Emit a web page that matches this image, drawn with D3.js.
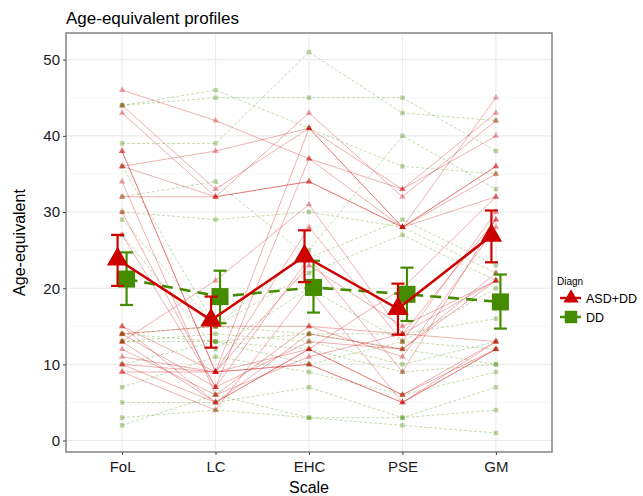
<!DOCTYPE html>
<html>
<head>
<meta charset="utf-8">
<script src="https://cdn.jsdelivr.net/npm/d3@7"></script>
<style>
  body { margin: 0; background: #fff; }
  text { font-family: "Liberation Sans", Arial, sans-serif; }
</style>
</head>
<body>
<div id="chart"></div>
<script>
// 量表名稱
var scales = ['FoL', 'LC', 'EHC', 'PSE', 'GM'];
var yTicks = [0, 10, 20, 30, 40, 50];
var yMinor = [5, 15, 25, 35, 45];

// 個別兒童 (ASD+DD)，順序同 scales
var asdRows = [
  [46, 42, 37, 33, 40],
  [44, 33, 41, 28, 45],
  [43, 32, 43, 32, 42],
  [38, 9, 41, 28, 36],
  [38, 9, 28, 13, 30],
  [36, 38, 41, 33, 43],
  [36, 32, 34, 28, 35],
  [34, 6, 15, 11, 28],
  [32, 32, 34, 28, 32],
  [30, 7, 37, 28, 36],
  [27, 7, 24, 9, 29],
  [15, 9, 23, 15, 21],
  [15, 5, 12, 6, 13],
  [14, 7, 13, 12, 21],
  [13, 21, 31, 14, 29],
  [12, 6, 11, 14, 13],
  [11, 9, 10, 5, 12],
  [10, 5, 14, 12, 22],
  [10, 9, 12, 20, 32],
  [9, 4, 20, 5, 12],
  [14, 15, 15, 14, 21],
  [9, 9, 10, 5, 13],
  [13, 5, 12, 6, 12]
];
// 個別兒童 (DD)
var ddRows = [
  [44, 46, 41, 36, 35],
  [44, 45, 45, 45, 38],
  [39, 39, 51, 43, 42],
  [36, 15, 25, 40, 33],
  [32, 34, 24, 29, 23],
  [30, 29, 30, 28, 22],
  [29, 15, 22, 27, 21],
  [27, 12, 20, 13, 20],
  [14, 15, 14, 14, 16],
  [13, 14, 13, 10, 13],
  [10, 13, 12, 9, 10],
  [7, 11, 9, 6, 9],
  [5, 5, 7, 3, 7],
  [3, 4, 3, 3, 4],
  [2, 6, 3, 2, 1],
  [14, 13, 10, 13, 12],
  [13, 13, 14, 12, 10]
];

// 平均與信賴區間
var asdMean = [23.8, 15.8, 24.2, 17.3, 26.9];
var asdLow  = [20.3, 12.2, 20.8, 13.9, 23.4];
var asdHigh = [27.0, 18.9, 27.6, 20.6, 30.2];
var ddMean  = [21.2, 18.9, 20.1, 19.2, 18.2];
var ddLow   = [17.8, 15.4, 16.8, 15.7, 14.7];
var ddHigh  = [24.7, 22.3, 23.6, 22.7, 21.8];

var groups = ['ASD+DD', 'DD'];

// 畫布
const width = 643, height = 496;
const panel = {left: 66, right: 552, top: 33, bottom: 452};
const red = '#CD0000', green = '#458B00';
const dodge = 4.5;

var svg = d3.select('#chart').append('svg')
  .attr('width', width)
  .attr('height', height);

var x = d3.scalePoint()
  .domain(scales)
  .range([panel.left, panel.right])
  .padding(0.6);
var y = d3.scaleLinear()
  .domain([-1.5, 53.5])
  .range([panel.bottom, panel.top]);

// 格線
var grid = svg.append('g');
grid.selectAll('line.minor')
  .data(yMinor)
  .enter().append('line')
  .attr('x1', panel.left).attr('x2', panel.right)
  .attr('y1', d => y(d)).attr('y2', d => y(d))
  .style('stroke', '#f2f2f2').style('stroke-width', 0.6);
grid.selectAll('line.major')
  .data(yTicks)
  .enter().append('line')
  .attr('x1', panel.left).attr('x2', panel.right)
  .attr('y1', d => y(d)).attr('y2', d => y(d))
  .style('stroke', '#ebebeb').style('stroke-width', 1.1);
grid.selectAll('line.vmajor')
  .data(scales)
  .enter().append('line')
  .attr('x1', d => x(d)).attr('x2', d => x(d))
  .attr('y1', panel.top).attr('y2', panel.bottom)
  .style('stroke', '#ebebeb').style('stroke-width', 1.1);

// 個別線
var line = d3.line()
  .x((d, i) => x(scales[i]))
  .y(d => y(d));

svg.append('g').selectAll('path')
  .data(ddRows)
  .enter().append('path')
  .attr('d', line)
  .style('fill', 'none')
  .style('stroke', green)
  .style('stroke-opacity', 0.35)
  .style('stroke-width', 0.9)
  .style('stroke-dasharray', '3,2');
svg.append('g').selectAll('path')
  .data(asdRows)
  .enter().append('path')
  .attr('d', line)
  .style('fill', 'none')
  .style('stroke', red)
  .style('stroke-opacity', 0.35)
  .style('stroke-width', 0.9);

// 個別點
var smallSq = d3.symbol(d3.symbolSquare, 20)();
var smallTri = d3.symbol(d3.symbolTriangle, 18)();
ddRows.forEach(function(row) {
  svg.append('g').selectAll('path')
    .data(row)
    .enter().append('path')
    .attr('d', smallSq)
    .attr('transform', (d, i) => `translate(${x(scales[i])},${y(d)})`)
    .style('fill', green).style('fill-opacity', 0.35);
});
asdRows.forEach(function(row) {
  svg.append('g').selectAll('path')
    .data(row)
    .enter().append('path')
    .attr('d', smallTri)
    .attr('transform', (d, i) => `translate(${x(scales[i])},${y(d)})`)
    .style('fill', red).style('fill-opacity', 0.35);
});

// 平均線 + 誤差線
function drawMean(mean, low, high, off, color, dash, sym) {
  var g = svg.append('g');
  g.append('path')
    .attr('d', d3.line().x((d, i) => x(scales[i]) + off).y(d => y(d))(mean))
    .style('fill', 'none')
    .style('stroke', color)
    .style('stroke-width', 2.6)
    .style('stroke-dasharray', dash);
  scales.forEach(function(s, i) {
    var cx = x(s) + off;
    g.append('line')
      .attr('x1', cx).attr('x2', cx)
      .attr('y1', y(low[i])).attr('y2', y(high[i]))
      .style('stroke', color).style('stroke-width', 2.2);
    [low[i], high[i]].forEach(function(v) {
      g.append('line')
        .attr('x1', cx - 6.5).attr('x2', cx + 6.5)
        .attr('y1', y(v)).attr('y2', y(v))
        .style('stroke', color).style('stroke-width', 2.2);
    });
  });
  g.selectAll('path.pt')
    .data(mean)
    .enter().append('path')
    .attr('class', 'pt')
    .attr('d', sym)
    .attr('transform', (d, i) => `translate(${x(scales[i]) + off},${y(d)})`)
    .style('fill', color);
}
drawMean(ddMean, ddLow, ddHigh, dodge, green, '11,7', d3.symbol(d3.symbolSquare, 290)());
drawMean(asdMean, asdLow, asdHigh, -dodge, red, null, d3.symbol(d3.symbolTriangle, 200)());

// 外框
svg.append('rect')
  .attr('x', panel.left).attr('y', panel.top)
  .attr('width', panel.right - panel.left)
  .attr('height', panel.bottom - panel.top)
  .style('fill', 'none')
  .style('stroke', '#7a7a7a')
  .style('stroke-width', 1.4);

// 座標軸
var yAxis = d3.axisLeft(y).tickValues(yTicks).tickSize(3).tickPadding(3);
var gy = svg.append('g')
  .attr('transform', `translate(${panel.left},0)`)
  .call(yAxis);
gy.select('.domain').remove();
gy.selectAll('.tick line').style('stroke', '#444');
gy.selectAll('.tick text')
  .style('font-size', '15px')
  .style('fill', '#1a1a1a')
  .style('font-family', '"Liberation Sans", Arial, sans-serif');

var xAxis = d3.axisBottom(x).tickSize(3).tickPadding(6);
var gx = svg.append('g')
  .attr('transform', `translate(0,${panel.bottom})`)
  .call(xAxis);
gx.select('.domain').remove();
gx.selectAll('.tick line').style('stroke', '#444');
gx.selectAll('.tick text')
  .style('font-size', '15px')
  .style('fill', '#1a1a1a')
  .style('font-family', '"Liberation Sans", Arial, sans-serif');

// 標題
svg.append('text')
  .attr('x', panel.left).attr('y', 24)
  .style('font-size', '17px')
  .style('fill', '#000')
  .text('Age-equivalent profiles');
svg.append('text')
  .attr('x', (panel.left + panel.right) / 2).attr('y', 493)
  .style('text-anchor', 'middle')
  .style('font-size', '16px')
  .text('Scale');
svg.append('text')
  .attr('transform', `translate(25,${(panel.top + panel.bottom) / 2}) rotate(-90)`)
  .style('text-anchor', 'middle')
  .style('font-size', '16px')
  .text('Age-equivalent');

// 圖例
var legend = svg.append('g').attr('transform', 'translate(557,0)');
legend.append('text')
  .attr('x', 0).attr('y', 285)
  .style('font-size', '10px')
  .text('Diagn');
var keys = [
  {name: groups[0], color: red, dash: null, sym: d3.symbol(d3.symbolTriangle, 100)(), cy: 298},
  {name: groups[1], color: green, dash: '5,3', sym: d3.symbol(d3.symbolSquare, 155)(), cy: 317}
];
keys.forEach(function(k) {
  legend.append('line')
    .attr('x1', 3).attr('x2', 24)
    .attr('y1', k.cy).attr('y2', k.cy)
    .style('stroke', k.color).style('stroke-width', 2.4)
    .style('stroke-dasharray', k.dash);
  legend.append('path')
    .attr('d', k.sym)
    .attr('transform', `translate(14,${k.cy})`)
    .style('fill', k.color);
  legend.append('text')
    .attr('x', 29).attr('y', k.cy + 4.5)
    .style('font-size', '12.5px')
    .text(k.name);
});
</script>
</body>
</html>
